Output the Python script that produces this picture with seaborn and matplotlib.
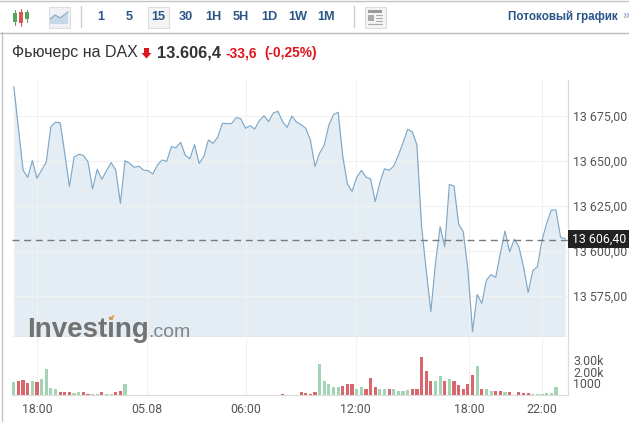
import matplotlib
matplotlib.use("Agg")
import matplotlib.pyplot as plt
from matplotlib.patches import Rectangle, Polygon
from matplotlib.ticker import FuncFormatter
import pandas as pd
import seaborn as sns

# Price per 15 minute bar
prices = [
    13691.4, 13668.3, 13645.1, 13641.0, 13650.3, 13640.5, 13645.1, 13649.4, 13669.2, 13671.6,
    13671.4, 13654.4, 13635.9, 13652.2, 13653.8, 13653.3, 13649.7, 13634.6, 13645.5, 13639.9,
    13644.7, 13649.2, 13645.1, 13626.6, 13650.3, 13648.8, 13646.6, 13647.2, 13645.1, 13644.7,
    13642.9, 13647.9, 13650.7, 13649.9, 13658.1, 13657.4, 13660.5, 13653.3, 13651.4, 13659.2,
    13648.8, 13652.5, 13661.8, 13659.9, 13663.3, 13671.0, 13670.9, 13670.9, 13674.2, 13673.6,
    13668.3, 13669.7, 13667.9, 13672.5, 13675.3, 13672.0, 13676.8, 13677.7, 13672.0, 13668.8,
    13675.1, 13671.8, 13670.3, 13668.3, 13661.8, 13647.0, 13654.4, 13659.0, 13670.1, 13675.9,
    13677.2, 13652.5, 13637.3, 13633.3, 13641.0, 13644.9, 13641.2, 13640.1, 13627.5, 13638.1,
    13645.8, 13644.9, 13647.3, 13653.4, 13660.3, 13667.7, 13666.4, 13659.0, 13613.6, 13589.5,
    13566.4, 13593.3, 13613.6, 13602.5, 13637.1, 13636.2, 13615.1, 13610.8, 13589.5, 13555.3,
    13576.0, 13571.0, 13584.0, 13587.0, 13585.5, 13598.8, 13611.2, 13599.7, 13606.6, 13602.5,
    13591.4, 13577.1, 13589.2, 13591.4, 13606.2, 13615.5, 13622.9, 13622.9, 13607.7, 13607.0,
]

volumes = [
    1090, 1170, 1260, 1000, 1230, 1090, 1340, 2200, 630, 490,
    230, 230, 230, 140, 230, 230, 90, 90, 110, 230,
    90, 90, 230, 340, 940, 0, 0, 0, 0, 0,
    0, 0, 0, 0, 0, 0, 0, 0, 0, 0,
    0, 30, 0, 0, 0, 0, 0, 0, 0, 0,
    0, 0, 0, 0, 0, 0, 0, 0, 60, 20,
    20, 30, 230, 140, 90, 290, 2630, 1170, 920, 720,
    660, 800, 920, 920, 540, 660, 540, 1430, 720, 490,
    490, 490, 540, 370, 310, 400, 490, 490, 3290, 2090,
    1230, 1230, 1660, 1170, 1340, 1170, 830, 490, 920, 1690,
    2520, 490, 490, 310, 310, 370, 290, 230, 30, 230,
    140, 140, 90, 90, 90, 200, 200, 660,
]

directions = list(
    "grrrgrggggrrrggrrggrggrrg"
    "ggggggggggggggggggggggggggggggggg"
    "rrrrrrrr"
    "gggggrrrggrrrggrggggrrrrrggrgrrrrrgrggrrgrrrrrgggggg"
)

current_price = 13606.4
price_ticks = [13575, 13600, 13625, 13650, 13675]
volume_ticks = [1000, 2000, 3000]
volume_labels = ["1000", "2.00k", "3.00k"]
time_ticks = [5.07, 28.68, 50.04, 73.8, 98.2, 114.05]
time_labels = ["18:00", "05.08", "06:00", "12:00", "18:00", "22:00"]
periods = ["1", "5", "15", "30", "1H", "5H", "1D", "1W", "1M"]
period_x = [101, 129.5, 158, 185.5, 213.5, 241, 269.5, 298, 326]

W, H = 629, 422
LEFT, RIGHT = 12, 568
LINE = "#7ea8c9"
FILL = "#e4edf3"
GRID = "#f1f1f1"
TICK_COL = "#555555"
BLUE = "#2b5688"
RED = "#e0141c"

sns.set_theme(style="white")
plt.rcParams["font.family"] = ["Roboto", "DejaVu Sans"]


def px_axes(fig, x0, y0, x1, y1, **kw):
    # axes placed by pixel box, y counted from the top
    return fig.add_axes([x0 / W, 1 - y1 / H, (x1 - x0) / W, (y1 - y0) / H], **kw)


fig = plt.figure(figsize=(W / 100, H / 100), dpi=100, facecolor="white")
ax = px_axes(fig, LEFT, 80, RIGHT, 337.3)
ax_vol = px_axes(fig, LEFT, 337.3, RIGHT, 395)
xlim = (-0.39, 119.6)

# Price panel
df = pd.DataFrame({"bar": range(len(prices)), "price": prices})
ymin, ymax = 13552.2, 13695.1
ax.fill_between(df["bar"], df["price"], ymin, color=FILL, zorder=1, lw=0)
sns.lineplot(data=df, x="bar", y="price", ax=ax, color=LINE, lw=0.85, zorder=3)
ax.axhline(current_price, color="#7a7a7a", lw=1.0, dashes=(5, 3.4), zorder=4)
ax.set_xlim(xlim)
ax.set_ylim(ymin, ymax)
ax.set_xlabel("")
ax.set_ylabel("")
ax.set_xticks(time_ticks)
ax.set_xticklabels([])
ax.set_yticks(price_ticks)
ax.yaxis.tick_right()
ax.yaxis.set_major_formatter(
    FuncFormatter(lambda v, _: f"{int(v) // 1000} {int(v) % 1000:03d},00")
)
ax.tick_params(axis="y", length=0, pad=3.6, labelsize=8.9, labelcolor=TICK_COL)
ax.tick_params(axis="x", length=0)
ax.grid(True, color=GRID, lw=0.8, zorder=2)
ax.set_axisbelow(False)
for name, spine in ax.spines.items():
    spine.set_visible(name in ("right", "bottom"))
    spine.set_color("#d8d8d8" if name == "right" else "#cccccc")
    spine.set_linewidth(0.9)

# Volume panel
df_vol = pd.DataFrame({"bar": range(len(volumes)), "volume": volumes, "dir": directions})
sns.barplot(
    data=df_vol, x="bar", y="volume", hue="dir", ax=ax_vol, native_scale=True,
    palette={"g": "#a3d4b5", "r": "#d9666d"}, dodge=False, width=0.68, legend=False,
    saturation=1, zorder=3, linewidth=0,
)
ax_vol.set_xlim(xlim)
ax_vol.set_ylim(0, 4944)
ax_vol.set_xlabel("")
ax_vol.set_ylabel("")
ax_vol.set_xticks(time_ticks)
ax_vol.set_xticklabels(time_labels)
ax_vol.set_yticks(volume_ticks)
ax_vol.set_yticklabels(volume_labels)
ax_vol.yaxis.tick_right()
ax_vol.tick_params(axis="y", length=0, pad=3.6, labelsize=8.9, labelcolor=TICK_COL)
ax_vol.tick_params(axis="x", length=0, pad=5.5, labelsize=8.9, labelcolor=TICK_COL)
ax_vol.xaxis.grid(True, color=GRID, lw=0.8, zorder=1)
ax_vol.set_axisbelow(True)
for name, spine in ax_vol.spines.items():
    spine.set_visible(name in ("right", "bottom"))
    spine.set_color("#dddddd")
    spine.set_linewidth(0.9)

# Overlay in pixel coordinates for the page furniture
over = fig.add_axes([0, 0, 1, 1], facecolor="none")
over.set_xlim(0, W)
over.set_ylim(H, 0)
over.axis("off")


def box(x, y, w, h, fc, ec="none", lw=0.8, z=5, alpha=None):
    over.add_patch(Rectangle((x, y), w, h, fc=fc, ec=ec, lw=lw, zorder=z, alpha=alpha))


# frame lines
over.plot([1.5, 1.5], [32, H], color="#c4c4c4", lw=1.0)
over.plot([0, W], [1, 1], color="#c4c4c4", lw=1.0)
over.plot([0, W], [32.5, 32.5], color="#bcbcbc", lw=1.0)

# current price tag
box(567.7, 230, 61.3, 17.7, "#222222", z=6)
over.text(599, 239, "13 606,40", color="white", fontsize=8.9, ha="center", va="center", zorder=7)

# toolbar icons
for x, top, bot, wt, wb, col in [
    (15, 13, 22, 10, 25, "#5aa35a"),
    (21, 12, 23, 9, 26, "#d9534f"),
    (27, 12, 19, 10, 22, "#5aa35a"),
]:
    over.plot([x, x], [wt, wb], color=col, lw=0.8, zorder=5)
    box(x - 1.7, top, 3.4, bot - top, col, z=6)
box(48.5, 6.5, 21, 21, "#eef2f6", ec="#dddddd")
over.add_patch(Polygon(
    [(50, 24), (50, 19), (55, 15), (60, 18), (68, 12), (68, 24)],
    fc="#c9d8e6", ec="none", zorder=6,
))
over.plot([50, 55, 60, 68], [19, 15, 18, 12], color="#8fadc8", lw=0.9, zorder=7)
over.plot([80.5, 80.5], [6, 27], color="#cccccc", lw=1.0)
box(147.5, 6.5, 21, 21, "#f4f4f4", ec="#dddddd")
for label, x in zip(periods, period_x):
    over.text(x, 17, label, color=BLUE, fontsize=9.2, fontweight="bold",
              family="Liberation Sans", ha="center", va="center", zorder=7)
over.plot([353.5, 353.5], [6, 27], color="#cccccc", lw=1.0)
box(364.5, 6.5, 21, 21, "#f4f4f4", ec="#dddddd")
box(368, 10, 14, 3, "#9a9a9a", z=6)
box(368, 14.5, 6, 6, "#aaaaaa", z=6)
for y in (15, 18, 21):
    over.plot([375.5, 382], [y, y], color="#aaaaaa", lw=0.8, zorder=6)
over.plot([368, 382], [23.5, 23.5], color="#aaaaaa", lw=0.8, zorder=6)
over.text(507.5, 17, "Потоковый график", color=BLUE, fontsize=8.4, fontweight="bold",
          family="Liberation Sans", ha="left", va="center")
over.text(622, 16.5, "»", color="#9fb4cc", fontsize=9, fontweight="bold",
          family="Liberation Sans", ha="left", va="center")

# quote header
over.text(12, 53, "Фьючерс на DAX", color="#333333", fontsize=11.5,
          family="Liberation Sans", ha="left", va="center")
over.add_patch(Polygon(
    [(144, 48), (149, 48), (149, 53), (151.5, 53), (146.5, 58.5), (141.5, 53), (144, 53)],
    fc=RED, ec="none",
))
over.text(156.5, 53, "13.606,4", color="#333333", fontsize=11.8, fontweight="bold",
          family="Liberation Sans", ha="left", va="center")
over.text(226, 53, "-33,6", color=RED, fontsize=9.9, fontweight="bold",
          family="Liberation Sans", ha="left", va="center")
over.text(264.5, 53, "(-0,25%)", color=RED, fontsize=9.9, fontweight="bold",
          family="Liberation Sans", ha="left", va="center")

# watermark
over.text(27, 337.3, "Investing", color="#727272", fontsize=20, fontweight="bold",
          family="Liberation Sans", ha="left", va="baseline", zorder=8)
over.text(148.5, 337.3, ".com", color="#858585", fontsize=14, 
          family="Liberation Sans", ha="left", va="baseline", zorder=8)
over.add_patch(Polygon(
    [(109, 319), (113, 315), (114.5, 316), (112, 320)], fc="#e8a33d", ec="none", zorder=9,
))

fig.savefig("out.png", dpi=100)
